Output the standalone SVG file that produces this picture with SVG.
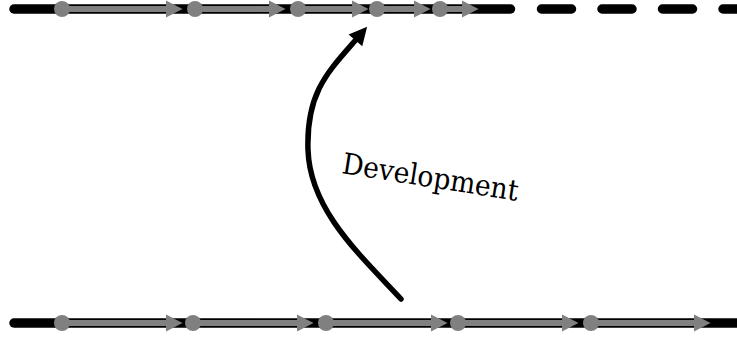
<svg xmlns="http://www.w3.org/2000/svg" width="737" height="338" viewBox="0 0 737 338">
  <style>
    .track { stroke: #000; stroke-width: 9.5; stroke-linecap: round; fill: none; }
    .step { stroke: #808080; stroke-width: 6; fill: none; marker-end: url(#grayHead); }
    .dot { fill: #808080; }
    .label { font-family: "DejaVu Serif", "Liberation Serif", serif; font-size: 29px; fill: #000; }
  </style>
  <defs>
    <marker id="grayHead" markerUnits="userSpaceOnUse" markerWidth="18" markerHeight="18" viewBox="0 -9 17 18" refX="0" refY="0" orient="auto">
      <path d="M0,-8.5 L16.5,0 L0,8.5 z" fill="#808080"/>
    </marker>
    <marker id="blackHead" markerUnits="userSpaceOnUse" markerWidth="22" markerHeight="22" viewBox="-9 -11 22 22" refX="0" refY="0" orient="auto">
      <path d="M-7,-9 L11,0 L-7,9 z" fill="#000"/>
    </marker>
  </defs>

  <g id="tracks">
    <line class="track" x1="14" y1="9" x2="510.5" y2="9"/>
    <line class="track" x1="541.5" y1="9" x2="760" y2="9" stroke-dasharray="30 30.5"/>
    <line class="track" x1="14" y1="323" x2="760" y2="323" stroke-linecap="butt"/>
  </g>

  <g id="connectors">
    <line class="step" x1="62" y1="9" x2="166" y2="9"/>
    <line class="step" x1="195" y1="9" x2="269" y2="9"/>
    <line class="step" x1="298" y1="9" x2="352" y2="9"/>
    <line class="step" x1="377" y1="9" x2="414" y2="9"/>
    <line class="step" x1="440" y1="9" x2="462" y2="9"/>

    <line class="step" x1="62" y1="323" x2="166" y2="323"/>
    <line class="step" x1="193" y1="323" x2="297" y2="323"/>
    <line class="step" x1="326" y1="323" x2="431" y2="323"/>
    <line class="step" x1="458" y1="323" x2="562" y2="323"/>
    <line class="step" x1="591" y1="323" x2="694" y2="323"/>

    <path id="development-arrow" d="M401,299 C360,255 310,210 308,150 S330,70 360,35" fill="none" stroke="#000" stroke-width="5.5" stroke-linecap="round" marker-end="url(#blackHead)"/>
  </g>

  <g id="top-dots">
    <circle class="dot" cx="62" cy="9" r="8"/>
    <circle class="dot" cx="195" cy="9" r="8"/>
    <circle class="dot" cx="298" cy="9" r="8"/>
    <circle class="dot" cx="377" cy="9" r="8"/>
    <circle class="dot" cx="440" cy="9" r="8"/>
  </g>
  <g id="bottom-dots">
    <circle class="dot" cx="62" cy="323" r="8"/>
    <circle class="dot" cx="193" cy="323" r="8"/>
    <circle class="dot" cx="326" cy="323" r="8"/>
    <circle class="dot" cx="458" cy="323" r="8"/>
    <circle class="dot" cx="591" cy="323" r="8"/>
  </g>

  <g id="label">
    <text class="label" transform="translate(341,173) rotate(9)" textLength="178" lengthAdjust="spacingAndGlyphs">Development</text>
  </g>
</svg>
